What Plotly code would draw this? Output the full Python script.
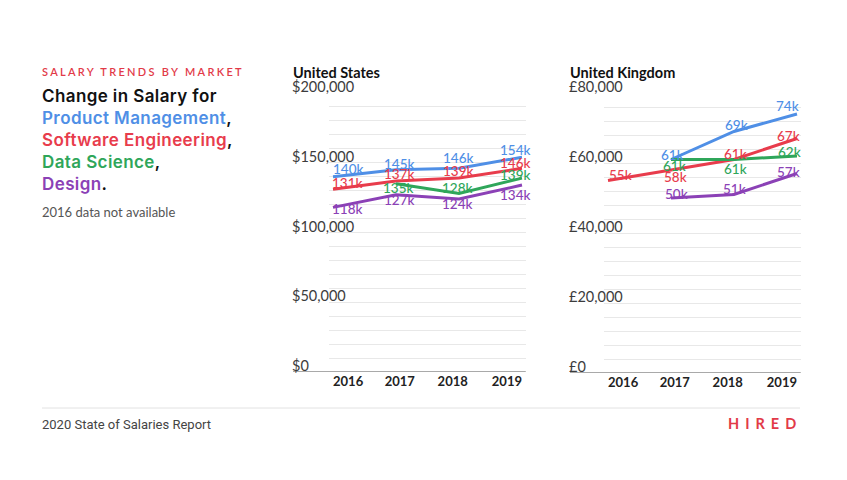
import plotly.graph_objects as go

# ---------------- data ----------------
years = ["2016", "2017", "2018", "2019"]
series_names = ["Product Management", "Software Engineering", "Data Science", "Design"]

us_pm = [140000, 145000, 146000, 154000]
us_se = [131000, 137000, 139000, 146000]
us_ds = [None, 135000, 128000, 139000]
us_de = [118000, 127000, 124000, 134000]

uk_pm = [None, 61000, 69000, 74000]
uk_se = [55000, 58000, 61000, 67000]
uk_ds = [None, 61000, 61000, 62000]
uk_de = [None, 50000, 51000, 57000]

us_ticks = [0, 50000, 100000, 150000, 200000]
uk_ticks = [0, 20000, 40000, 60000, 80000]

# ---------------- style ----------------
W, H = 847, 480
colors = ["#4f8fe6", "#e83c4c", "#2fa65a", "#8b41b6"]
FONT = "Lato, 'Open Sans', sans-serif"
TITLE_FONT = "Inter, Lato, sans-serif"

def px_x(p):
    return p / W

def px_y(p):
    return 1 - p / H

# label offsets (dx, dy) in screen px, dy positive = down
us_offsets = [
    [(15, -7), (3, -5), (-1, -9), (-7, -6)],
    [(14, -5), (3, -6), (-1, -6), (-7, -4)],
    [None, (2, 5), (-2, -4), (-7, -2)],
    [(14, 3), (3, 6), (-2, 6), (-7, 11)],
]
uk_offsets = [
    [None, (1, -4), (2, -6), (-10, -7)],
    [(12, -5), (4, 8), (1, -5), (-9, -2)],
    [None, (3, 7), (1, 10), (-8, -3)],
    [None, (5, -3), (0, -5), (-9, -1)],
]

x_idx = list(range(len(years)))
tick_pos = [0.24, 1.06, 1.90, 2.76]

fig = go.Figure()
annotations = []
shapes = []

panels = [
    dict(name="United States", data=[us_pm, us_se, us_ds, us_de], offsets=us_offsets,
         ticks=us_ticks, cur="$", xa="x", ya="y", left=293, x0=333),
    dict(name="United Kingdom", data=[uk_pm, uk_se, uk_ds, uk_de], offsets=uk_offsets,
         ticks=uk_ticks, cur="£", xa="x2", ya="y2", left=570, x0=608),
]

unit_px = 63.0
pad = 0.06
for p in panels:
    for s, vals in enumerate(p["data"]):
        fig.add_trace(go.Scatter(
            x=x_idx, y=vals, mode="lines", xaxis=p["xa"], yaxis=p["ya"],
            line=dict(color=colors[s], width=3), name=series_names[s],
            hoverinfo="skip", showlegend=False, connectgaps=False))
        for i, v in enumerate(vals):
            if v is None:
                continue
            dx, dy = p["offsets"][s][i]
            annotations.append(dict(
                x=x_idx[i], y=v, xref=p["xa"], yref=p["ya"], text=f"{v // 1000}k",
                showarrow=False, xanchor="center", yanchor="middle",
                xshift=dx, yshift=-dy + 1,
                font=dict(family=FONT, size=13.5, color=colors[s], weight=500)))
    # y tick labels
    for t in p["ticks"]:
        annotations.append(dict(
            x=px_x(p["left"]), y=t, xref="paper", yref=p["ya"],
            text=f"{p['cur']}{t:,}", showarrow=False, xanchor="left", yanchor="bottom",
            xshift=-3, yshift=-4,
            font=dict(family=FONT, size=14.5, color="#3c3c3c", weight=400)))
    # baseline
    shapes.append(dict(type="line", xref="paper", yref=p["ya"],
                       x0=px_x(p["left"]), x1=px_x(p["x0"] + 3 * unit_px + pad * unit_px),
                       y0=0, y1=0, line=dict(color="#8c8c8c", width=1.5)))
    # panel title
    annotations.append(dict(
        x=px_x(p["left"]), y=px_y(72), xref="paper", yref="paper", text=p["name"],
        showarrow=False, xanchor="left", yanchor="middle", xshift=-2,
        font=dict(family=FONT, size=14.5, color="#111111", weight=700)))

def xdomain(x0):
    return [px_x(x0 - pad * unit_px), px_x(x0 + 3 * unit_px + pad * unit_px)]

axis_common_x = dict(range=[-pad, 3 + pad], tickvals=tick_pos, ticktext=years,
                     showgrid=False, zeroline=False, showline=False, ticks="",
                     tickfont=dict(family=FONT, size=13, color="#222222", weight=700),
                     fixedrange=True)
fig.update_layout(
    xaxis=dict(domain=xdomain(333), anchor="y", **axis_common_x),
    xaxis2=dict(domain=xdomain(608), anchor="y2", **axis_common_x),
    yaxis=dict(domain=[px_y(372), px_y(93)], range=[0, 200000], dtick=10000,
               showgrid=True, gridcolor="#e8e8e8", gridwidth=1, zeroline=False,
               showticklabels=False, anchor="x", fixedrange=True),
    yaxis2=dict(domain=[px_y(373), px_y(93)], range=[0, 80000], dtick=4000,
                showgrid=True, gridcolor="#e8e8e8", gridwidth=1, zeroline=False,
                showticklabels=False, anchor="x2", fixedrange=True),
)

# left text block
annotations.append(dict(
    x=px_x(42), y=px_y(71), xref="paper", yref="paper",
    text='<span style="letter-spacing:2.3px">SALARY TRENDS BY MARKET</span>',
    showarrow=False, xanchor="left", yanchor="middle", xshift=-2,
    font=dict(family=FONT, size=11, color="#e23a48", weight=600)))

LS = "letter-spacing:0.4px"
title_lines = [
    f'<span style="{LS}">Change in Salary for</span>',
    f'<span style="color:{colors[0]};{LS}">{series_names[0]}</span>,',
    f'<span style="color:{colors[1]};{LS}">{series_names[1]}</span>,',
    f'<span style="color:{colors[2]};{LS}">{series_names[2]}</span>,',
    f'<span style="color:{colors[3]};{LS}">{series_names[3]}</span>.',
]
annotations.append(dict(
    x=px_x(42), y=px_y(84), xref="paper", yref="paper",
    text="<br>".join(title_lines), align="left",
    showarrow=False, xanchor="left", yanchor="top", xshift=-2,
    font=dict(family=TITLE_FONT, size=17, color="#111111", weight=600)))

annotations.append(dict(
    x=px_x(42), y=px_y(212), xref="paper", yref="paper",
    text="2016 data not available", showarrow=False, xanchor="left", yanchor="middle",
    xshift=-2, font=dict(family=FONT, size=13, color="#555555")))

# footer
shapes.append(dict(type="line", xref="paper", yref="paper", x0=px_x(42), x1=px_x(800),
                   y0=px_y(408), y1=px_y(408), line=dict(color="#e2e2e2", width=1)))
annotations.append(dict(
    x=px_x(42), y=px_y(424), xref="paper", yref="paper",
    text="2020 State of Salaries Report", showarrow=False, xanchor="left", yanchor="middle",
    xshift=-2, font=dict(family="'Liberation Sans Narrow', Roboto, sans-serif", size=13, color="#444444")))
annotations.append(dict(
    x=px_x(804), y=px_y(423), xref="paper", yref="paper",
    text='<span style="letter-spacing:6px">HIRED</span>', showarrow=False,
    xanchor="right", yanchor="middle",
    font=dict(family=FONT, size=14.5, color="#e23a48", weight=700)))

fig.update_layout(
    width=W, height=H, margin=dict(l=0, r=0, t=0, b=0),
    paper_bgcolor="white", plot_bgcolor="white",
    annotations=annotations, shapes=shapes, showlegend=False,
    font=dict(family=FONT),
)

fig.write_html("out.html", config={"displayModeBar": False},
               post_script="document.body.style.margin='0px';")
